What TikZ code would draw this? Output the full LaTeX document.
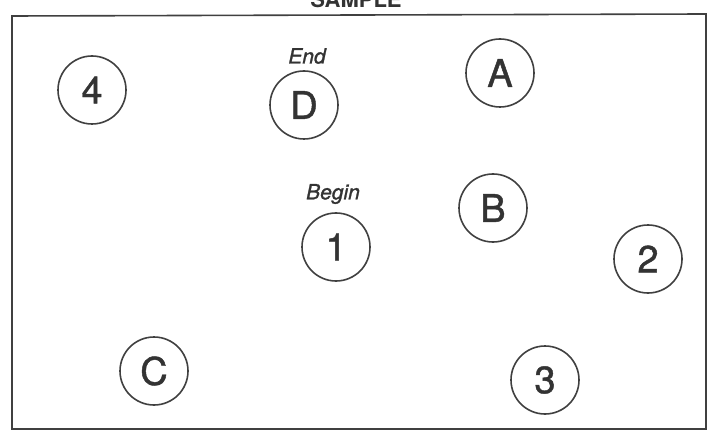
\documentclass[tikz,border=0pt]{standalone}
\usepackage{fontspec}
\setmainfont{TeX Gyre Heros}
\newfontfamily\penfont[FakeBold=1.2]{TeX Gyre Heros}
\begin{document}
\begin{tikzpicture}[x=1pt,y=-1pt,
  ink/.style={draw=black!75, line width=1.6pt},
  station/.style={ink, circle, minimum size=68pt, inner sep=0pt, font=\penfont\fontsize{38}{40}\selectfont, text=black!80},
  tag/.style={font=\penfont\fontsize{21}{23}\selectfont\itshape, text=black!80}]
\clip (0,0) rectangle (711,430);
\useasboundingbox (0,0) rectangle (711,430);
\fill[white] (0,0) rectangle (711,430);
\node[font=\fontsize{22}{24}\selectfont\bfseries, text=black!80, anchor=base] (title) at (356,8) {SAMPLE};
\draw[ink] (12,16) -- (706,14) -- (706,429) -- (12,429) -- cycle;
\node[station] (n4) at (92,90) {4};
\node[station] (nD) at (304,105) {D};
\node[station] (nA) at (500,73) {A};
\node[station] (nB) at (493,208) {B};
\node[station] (n1) at (336,247) {1};
\node[station] (n2) at (648,259) {2};
\node[station] (nC) at (154,371) {C};
\node[station] (n3) at (545,380) {3};
\node[tag] (end) at (307,56) {End};
\node[tag] (begin) at (333,194) {Begin};
\end{tikzpicture}
\end{document}
